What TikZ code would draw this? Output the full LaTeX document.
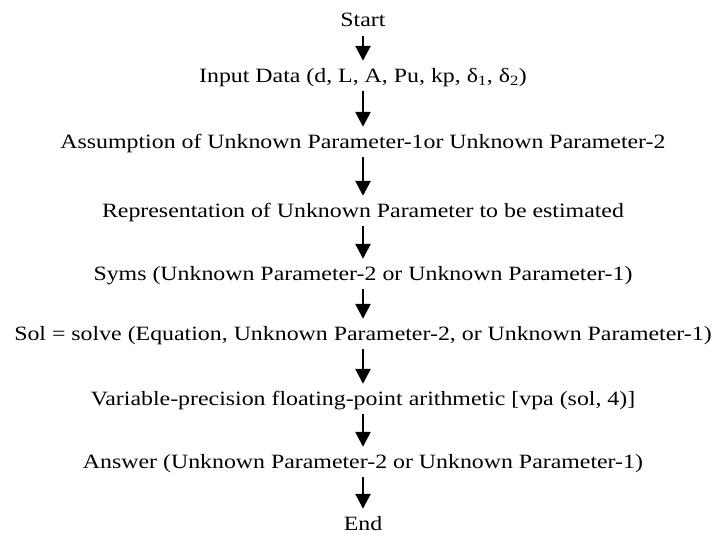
\documentclass[tikz,border=0pt]{standalone}
\usepackage{fontspec}
\setmainfont{Liberation Serif}[FakeStretch=1.175]
\usetikzlibrary{positioning,arrows.meta}
\tikzset{
    steptext/.style={
        anchor=base,
        inner sep=0pt,
        text height=14pt,
        text depth=5pt,
        font=\fontsize{20.3}{24}\selectfont
    },
    flow/.style={
        -{Triangle[width=15pt,length=15pt]},
        line width=2.6pt,
        shorten <=4pt,
        shorten >=7pt
    }
}

\begin{document}
\begin{tikzpicture}[x=1pt,y=-1pt]
    \useasboundingbox (0,0) rectangle (718,543);

    \node[steptext] (Start) at (363,27) {Start};
    \node[steptext] (Input) at (363,82) {Input Data (d, L, A, Pu, kp, δ\textsubscript{1}, δ\textsubscript{2})};
    \node[steptext] (Assume) at (363,148) {Assumption of Unknown Parameter-1or Unknown Parameter-2};
    \node[steptext] (Repr) at (363,217) {Representation of Unknown Parameter to be estimated};
    \node[steptext] (Syms) at (363,280) {Syms (Unknown Parameter-2 or Unknown Parameter-1)};
    \node[steptext] (Sol) at (363,340) {Sol = solve (Equation, Unknown Parameter-2, or Unknown Parameter-1)};
    \node[steptext] (Vpa) at (363,405) {Variable-precision floating-point arithmetic [vpa (sol, 4)]};
    \node[steptext] (Answer) at (363,468) {Answer (Unknown Parameter-2 or Unknown Parameter-1)};
    \node[steptext] (End) at (363,530) {End};

    % flow
    \draw[flow] (Start) -- (Input);
    \draw[flow] (Input) -- (Assume);
    \draw[flow] (Assume) -- (Repr);
    \draw[flow] (Repr) -- (Syms);
    \draw[flow] (Syms) -- (Sol);
    \draw[flow] (Sol) -- (Vpa);
    \draw[flow] (Vpa) -- (Answer);
    \draw[flow] (Answer) -- (End);
\end{tikzpicture}
\end{document}
